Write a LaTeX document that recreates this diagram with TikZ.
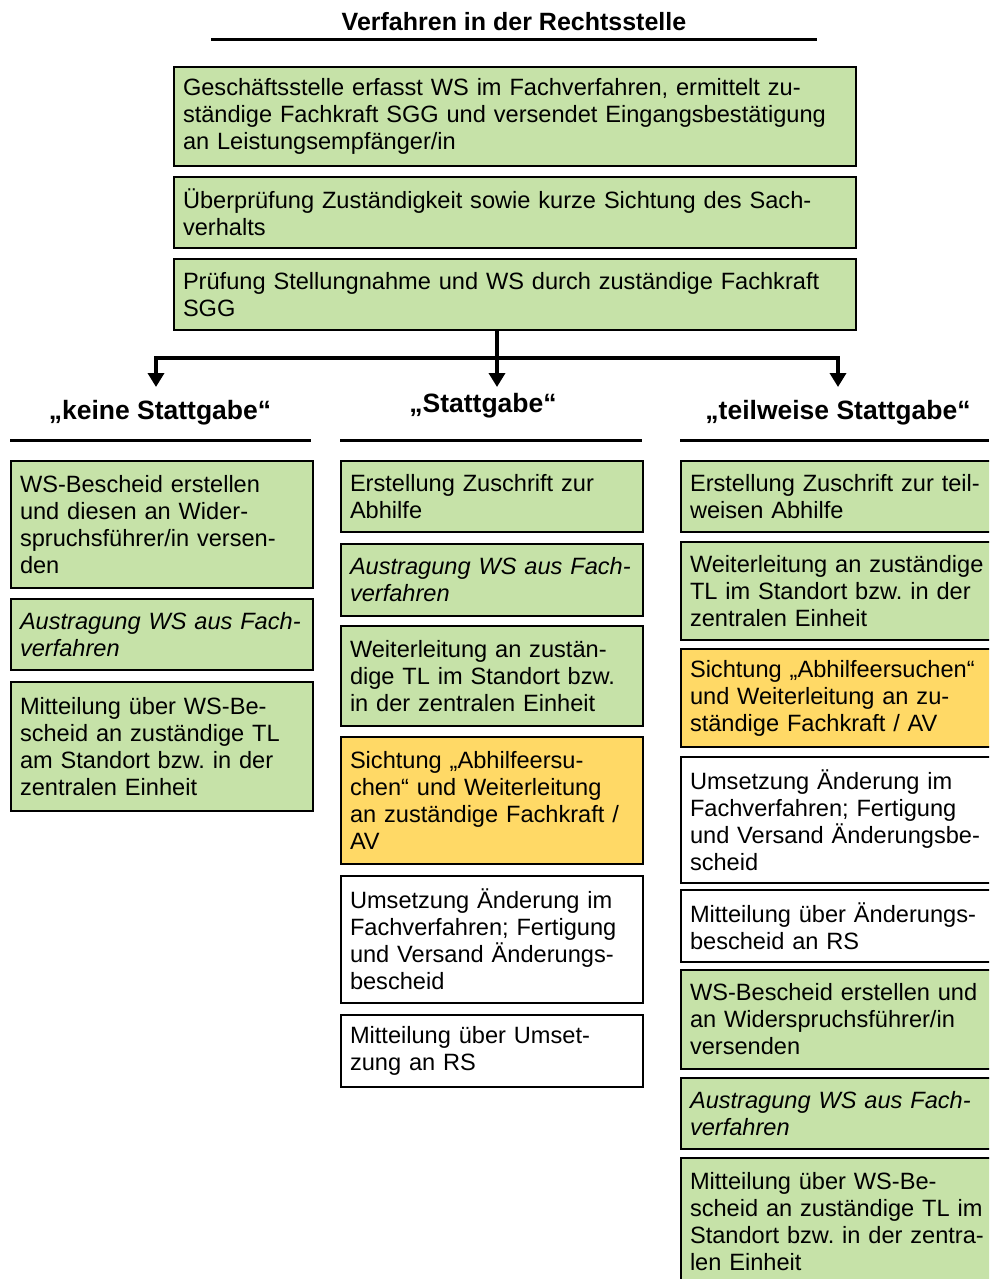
\documentclass[tikz,border=0pt]{standalone}
\usepackage{fontspec}
\setmainfont{Liberation Sans}
\usetikzlibrary{arrows.meta}
\definecolor{boxgreen}{RGB}{198,226,168}
\definecolor{boxorange}{RGB}{255,217,102}
\frenchspacing

\tikzset{
  box/.style={draw, line width=2pt, anchor=north west, align=left,
    inner xsep=9pt, inner ysep=4pt, font=\fontsize{23.6}{27}\selectfont},
  tbox/.style={box, text width=664pt},
  lbox/.style={box, text width=284pt},
  rbox/.style={box, text width=310pt},
  gbox/.style={fill=boxgreen},
  obox/.style={fill=boxorange},
  wbox/.style={fill=white},
  ibox/.style={fill=boxgreen, font=\fontsize{23.6}{27}\selectfont\itshape},
  heading/.style={font=\bfseries\fontsize{26.5}{30}\selectfont},
  rule/.style={line width=3pt},
  conn/.style={line width=4pt},
  arrow/.style={conn, -{Triangle[width=16pt,length=14pt]}}
}

\begin{document}
\begin{tikzpicture}[x=1pt,y=-1pt]
  \useasboundingbox (0,0) rectangle (989,1279);
  \clip (0,0) rectangle (989,1279);
  % title
  \node[heading, font=\bfseries\fontsize{25}{30}\selectfont] (title) at (514,22) {Verfahren in der Rechtsstelle};
  \draw[rule] (211,40) -- (817,40);
  % common steps
  \node[tbox, gbox, minimum height=99pt] (b1) at (173,66)
    {Geschäftsstelle erfasst WS im Fachverfahren, ermittelt zu-\\ständige Fachkraft SGG und versendet Eingangsbestätigung\\an Leistungsempfänger/in};
  \node[tbox, gbox, minimum height=71pt] (b2) at (173,176)
    {Überprüfung Zuständigkeit sowie kurze Sichtung des Sach-\\verhalts};
  \node[tbox, gbox, minimum height=71pt] (b3) at (173,258)
    {Prüfung Stellungnahme und WS durch zuständige Fachkraft\\SGG};
  % branching
  \coordinate (split) at (497,358);
  \coordinate (ak) at (156,387);
  \coordinate (as) at (497,387);
  \coordinate (at) at (838,387);
  \draw[conn] (b3.south -| split) -- (split);
  \draw[arrow] (split) -| (ak);
  \draw[arrow] (split) -- (as);
  \draw[arrow] (split) -| (at);
  % headings
  \node[heading] (hk) at (160,413) {„keine Stattgabe“};
  \node[heading] (hs) at (483,406) {„Stattgabe“};
  \node[heading] (ht) at (838,413) {„teilweise Stattgabe“};
  \draw[rule] (10,440) -- (311,440);
  \draw[rule] (340,440) -- (642,440);
  \draw[rule] (680,440) -- (989,440);
  % keine Stattgabe
  \node[lbox, gbox, minimum height=127pt] (l1) at (10,460)
    {WS-Bescheid erstellen\\und diesen an Wider-\\spruchsführer/in versen-\\den};
  \node[lbox, ibox, minimum height=71pt] (l2) at (10,598)
    {Austragung WS aus Fach-\\verfahren};
  \node[lbox, gbox, minimum height=129pt] (l3) at (10,681)
    {Mitteilung über WS-Be-\\scheid an zuständige TL\\am Standort bzw. in der\\zentralen Einheit};
  % Stattgabe
  \node[lbox, gbox, minimum height=71pt] (m1) at (340,460)
    {Erstellung Zuschrift zur\\Abhilfe};
  \node[lbox, ibox, minimum height=72pt] (m2) at (340,543)
    {Austragung WS aus Fach-\\verfahren};
  \node[lbox, gbox, minimum height=100pt] (m3) at (340,625)
    {Weiterleitung an zustän-\\dige TL im Standort bzw.\\in der zentralen Einheit};
  \node[lbox, obox, minimum height=127pt] (m4) at (340,736)
    {Sichtung „Abhilfeersu-\\chen“ und Weiterleitung\\an zuständige Fachkraft /\\AV};
  \node[lbox, wbox, minimum height=127pt] (m5) at (340,875)
    {Umsetzung Änderung im\\Fachverfahren; Fertigung\\und Versand Änderungs-\\bescheid};
  \node[lbox, wbox, minimum height=72pt] (m6) at (340,1014)
    {Mitteilung über Umset-\\zung an RS};
  % teilweise Stattgabe
  \node[rbox, gbox, minimum height=71pt] (r1) at (680,460)
    {Erstellung Zuschrift zur teil-\\weisen Abhilfe};
  \node[rbox, gbox, minimum height=98pt] (r2) at (680,541)
    {Weiterleitung an zuständige\\TL im Standort bzw. in der\\zentralen Einheit};
  \node[rbox, obox, minimum height=98pt] (r3) at (680,648)
    {Sichtung „Abhilfeersuchen“\\und Weiterleitung an zu-\\ständige Fachkraft / AV};
  \node[rbox, wbox, minimum height=126pt] (r4) at (680,756)
    {Umsetzung Änderung im\\Fachverfahren; Fertigung\\und Versand Änderungsbe-\\scheid};
  \node[rbox, wbox, minimum height=72pt] (r5) at (680,889)
    {Mitteilung über Änderungs-\\bescheid an RS};
  \node[rbox, gbox, minimum height=99pt] (r6) at (680,969)
    {WS-Bescheid erstellen und\\an Widerspruchsführer/in\\versenden};
  \node[rbox, ibox, minimum height=71pt] (r7) at (680,1077)
    {Austragung WS aus Fach-\\verfahren};
  \node[rbox, gbox, minimum height=128pt] (r8) at (680,1157)
    {Mitteilung über WS-Be-\\scheid an zuständige TL im\\Standort bzw. in der zentra-\\len Einheit};
\end{tikzpicture}
\end{document}
